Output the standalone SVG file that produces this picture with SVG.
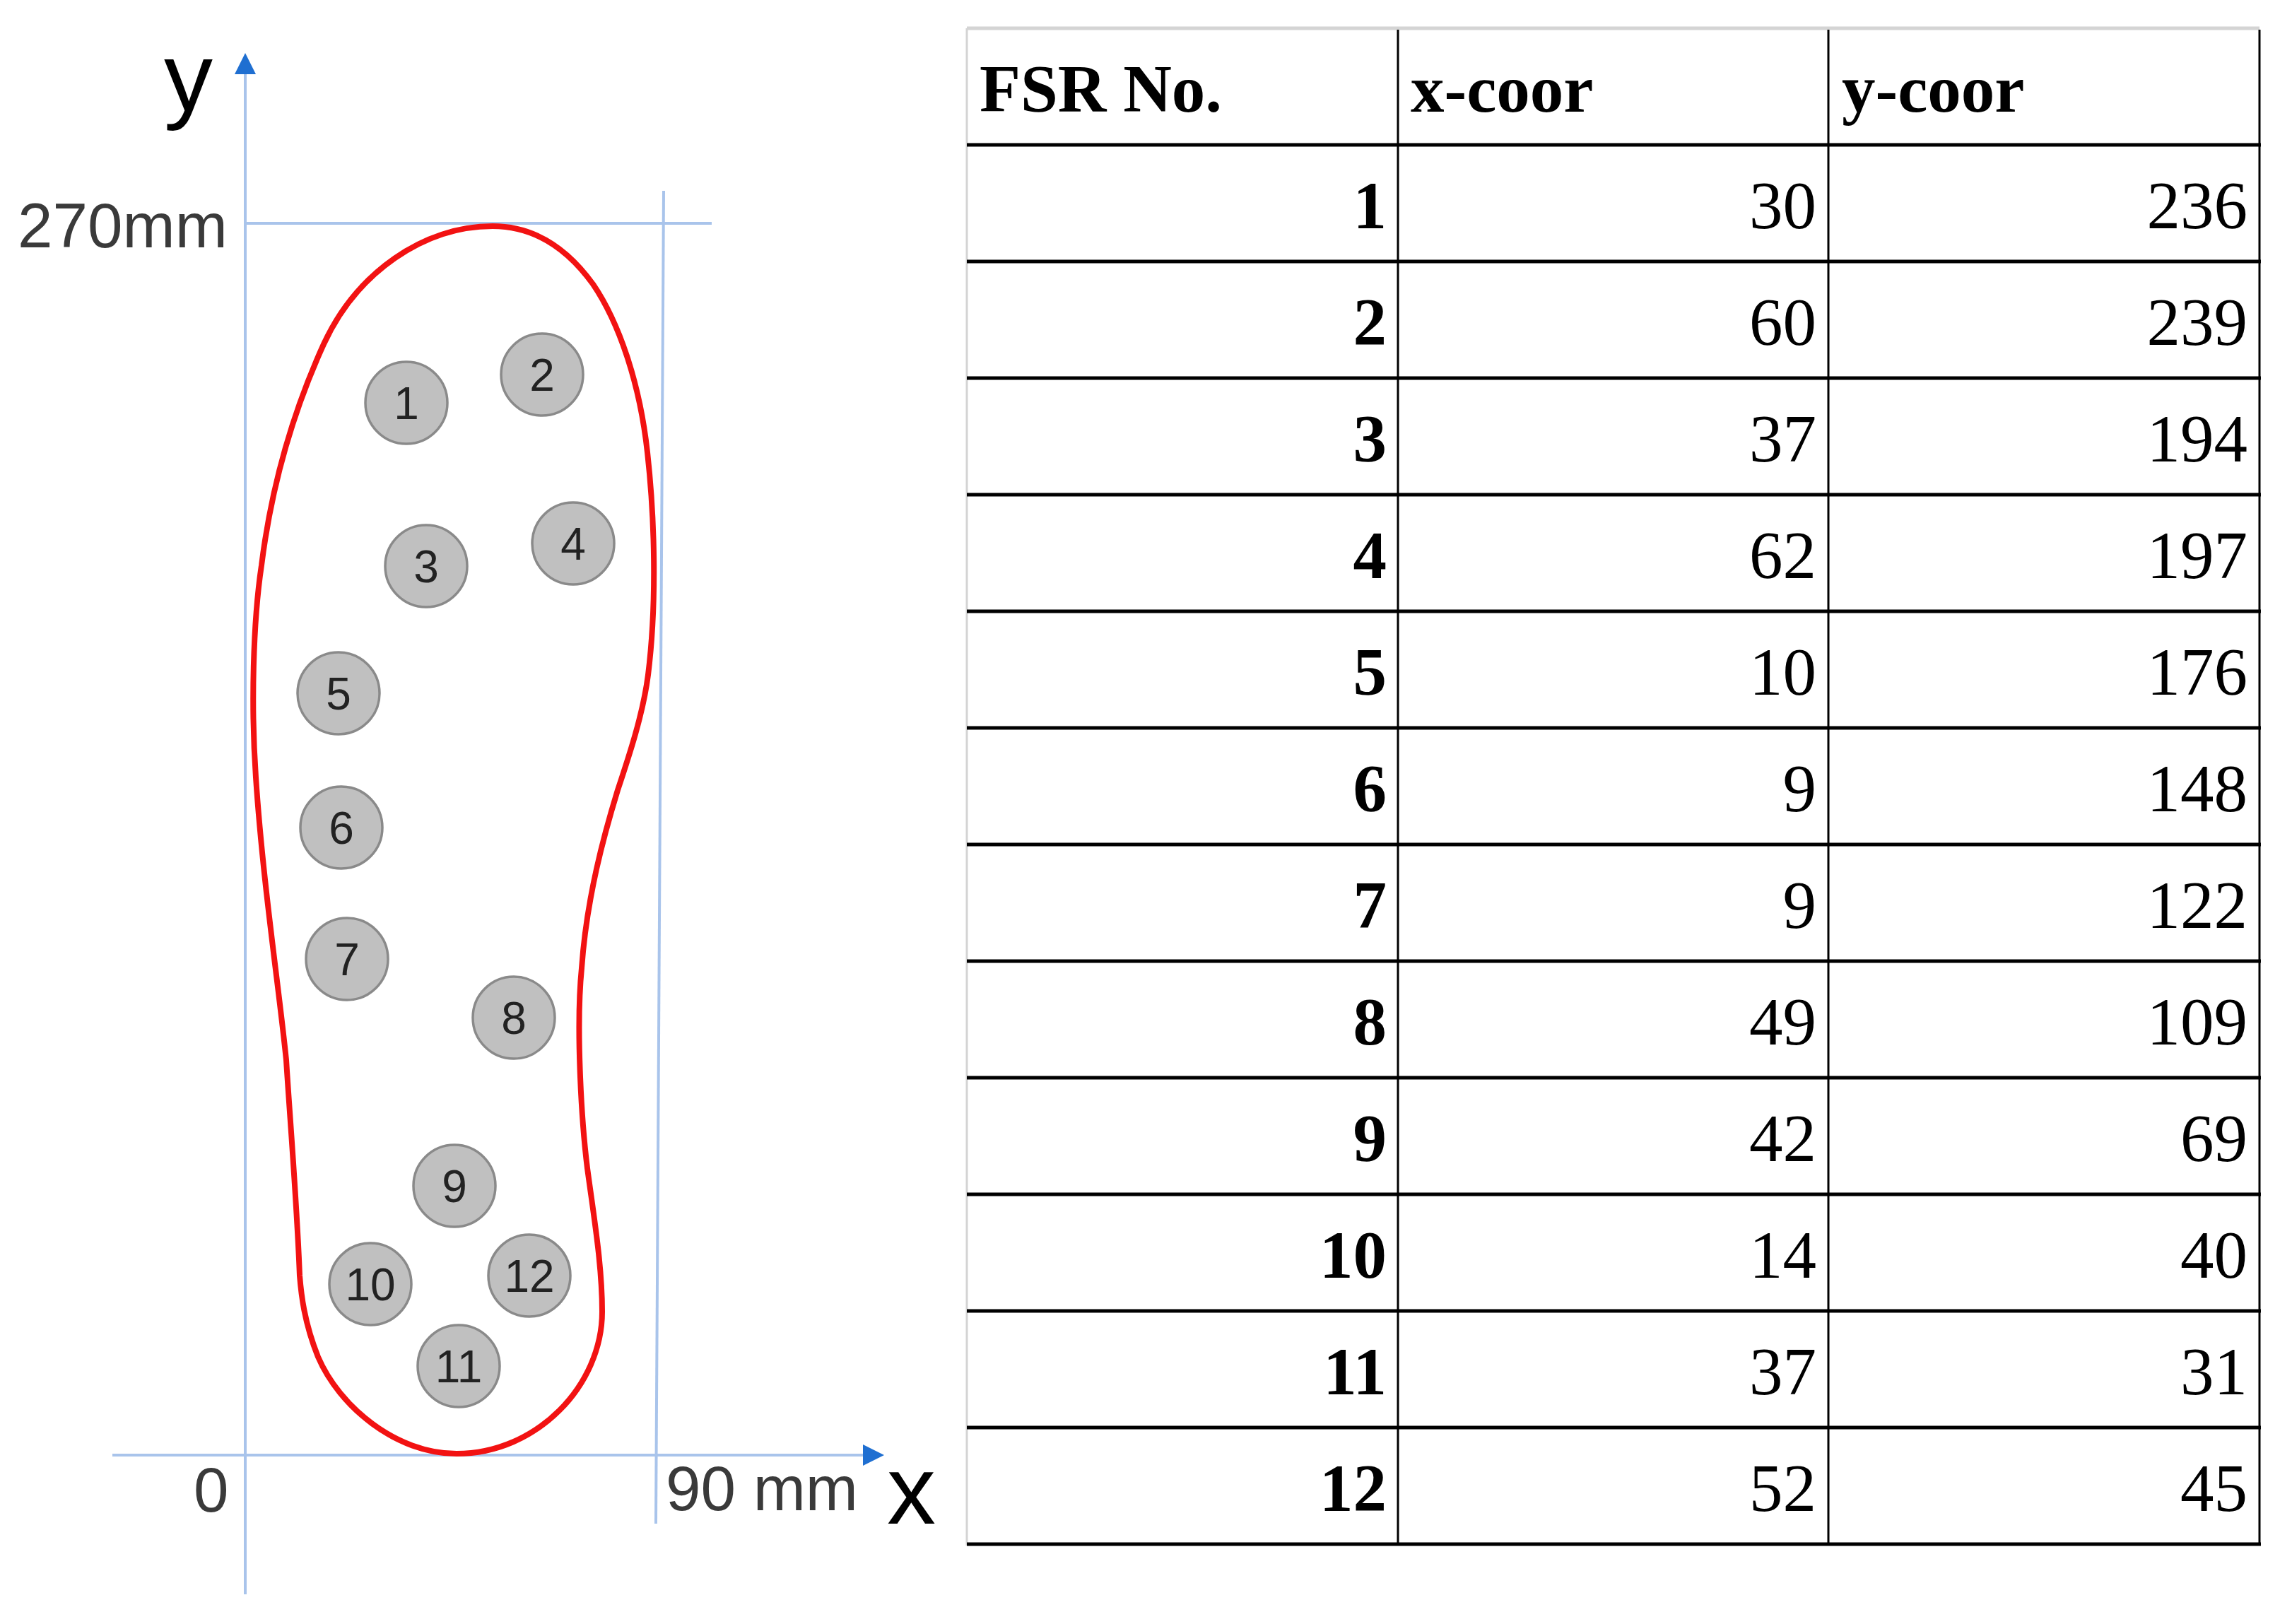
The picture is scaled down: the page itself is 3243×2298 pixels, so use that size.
<svg xmlns="http://www.w3.org/2000/svg" width="3243" height="2298" viewBox="0 0 3243 2298">
<style>
.ax{stroke:#a9c4eb;stroke-width:4;fill:none}
.lbl{font-family:"Liberation Sans",Arial,sans-serif;fill:#3a3a3a}
.big{font-family:"Liberation Sans",Arial,sans-serif;fill:#000;font-size:138px}
.sensor circle{fill:#c0c0c0;stroke:#8a8a8a;stroke-width:3.5}
.sensor text{font-family:"Liberation Sans",Arial,sans-serif;font-size:64px;fill:#222;text-anchor:middle}
.hl{stroke:#000;stroke-width:5}
.vl{stroke:#000;stroke-width:3}
.th{font-family:"Liberation Serif","Times New Roman",serif;font-weight:bold;font-size:95px;fill:#000}
.c1{font-family:"Liberation Serif","Times New Roman",serif;font-weight:bold;font-size:95px;fill:#000;text-anchor:end}
.cn{font-family:"Liberation Serif","Times New Roman",serif;font-size:95px;fill:#000;text-anchor:end}
</style>
<defs>
<marker id="arr" viewBox="0 0 30 30" refX="0" refY="15" markerWidth="30" markerHeight="30" markerUnits="userSpaceOnUse" orient="auto">
<path d="M0,0 L30,15 L0,30 Z" fill="#1f6fd1"/>
</marker>
</defs>
<rect width="3243" height="2298" fill="#fff"/>
<g id="axes">
<line class="ax" x1="347" y1="2256" x2="347" y2="105" marker-end="url(#arr)"/>
<line class="ax" x1="159" y1="2059" x2="1221" y2="2059" stroke-width="5" marker-end="url(#arr)"/>
<line class="ax" x1="347" y1="316" x2="1007" y2="316"/>
<line class="ax" x1="939" y1="270" x2="928" y2="2156"/>
<text class="big" x="232" y="156">y</text>
<text class="big" x="1255" y="2156">x</text>
<text class="lbl" x="25" y="350" font-size="89">270mm</text>
<text class="lbl" x="274" y="2139" font-size="89">0</text>
<text class="lbl" x="942" y="2137" font-size="89">90 mm</text>
</g>
<g id="insole">
<path d="M697 320 C760 320 805 355 839 402 C875 455 905 540 916 640 C926 730 930 850 917 955 C910 1010 890 1070 874 1118 C855 1180 830 1270 823 1370 C815 1450 822 1580 831 1653 C840 1720 852 1790 852 1856 C852 1960 760 2057 646 2057 C560 2057 480 1990 450 1920 C430 1870 426 1830 424 1805 C420 1700 410 1580 405 1500 C395 1400 372 1250 362 1100 C355 1000 358 880 370 800 C385 680 418 575 458 487 C505 385 600 320 697 320 Z" fill="none" stroke="#f21212" stroke-width="8"/>
</g>
<g id="sensor-1" class="sensor"><circle cx="575" cy="570" r="58"/><text x="575" y="593">1</text></g>
<g id="sensor-2" class="sensor"><circle cx="767" cy="530" r="58"/><text x="767" y="553">2</text></g>
<g id="sensor-3" class="sensor"><circle cx="603" cy="801" r="58"/><text x="603" y="824">3</text></g>
<g id="sensor-4" class="sensor"><circle cx="811" cy="769" r="58"/><text x="811" y="792">4</text></g>
<g id="sensor-5" class="sensor"><circle cx="479" cy="981" r="58"/><text x="479" y="1004">5</text></g>
<g id="sensor-6" class="sensor"><circle cx="483" cy="1171" r="58"/><text x="483" y="1194">6</text></g>
<g id="sensor-7" class="sensor"><circle cx="491" cy="1357" r="58"/><text x="491" y="1380">7</text></g>
<g id="sensor-8" class="sensor"><circle cx="727" cy="1440" r="58"/><text x="727" y="1463">8</text></g>
<g id="sensor-9" class="sensor"><circle cx="643" cy="1678" r="58"/><text x="643" y="1701">9</text></g>
<g id="sensor-10" class="sensor"><circle cx="524" cy="1817" r="58"/><text x="524" y="1840">10</text></g>
<g id="sensor-11" class="sensor"><circle cx="649" cy="1933" r="58"/><text x="649" y="1956">11</text></g>
<g id="sensor-12" class="sensor"><circle cx="749" cy="1805" r="58"/><text x="749" y="1828">12</text></g>
<g id="table">
<line x1="1368" y1="40" x2="3197" y2="40" stroke="#d4d4d4" stroke-width="5"/>
<line x1="1368" y1="40" x2="1368" y2="2187" stroke="#d4d4d4" stroke-width="3"/>
<line class="vl" x1="1978" y1="42" x2="1978" y2="2187"/>
<line class="vl" x1="2587" y1="42" x2="2587" y2="2187"/>
<line class="vl" x1="3197" y1="42" x2="3197" y2="2187"/>
<line class="hl" x1="1368" y1="205" x2="3199" y2="205"/>
<line class="hl" x1="1368" y1="370" x2="3199" y2="370"/>
<line class="hl" x1="1368" y1="535" x2="3199" y2="535"/>
<line class="hl" x1="1368" y1="700" x2="3199" y2="700"/>
<line class="hl" x1="1368" y1="865" x2="3199" y2="865"/>
<line class="hl" x1="1368" y1="1030" x2="3199" y2="1030"/>
<line class="hl" x1="1368" y1="1195" x2="3199" y2="1195"/>
<line class="hl" x1="1368" y1="1360" x2="3199" y2="1360"/>
<line class="hl" x1="1368" y1="1525" x2="3199" y2="1525"/>
<line class="hl" x1="1368" y1="1690" x2="3199" y2="1690"/>
<line class="hl" x1="1368" y1="1855" x2="3199" y2="1855"/>
<line class="hl" x1="1368" y1="2020" x2="3199" y2="2020"/>
<line class="hl" x1="1368" y1="2185" x2="3199" y2="2185"/>
<text class="th" x="1386" y="158">FSR No.</text>
<text class="th" x="1996" y="158">x-coor</text>
<text class="th" x="2606" y="158">y-coor</text>
<text class="c1" x="1962" y="323">1</text><text class="cn" x="2570" y="323">30</text><text class="cn" x="3180" y="323">236</text>
<text class="c1" x="1962" y="488">2</text><text class="cn" x="2570" y="488">60</text><text class="cn" x="3180" y="488">239</text>
<text class="c1" x="1962" y="653">3</text><text class="cn" x="2570" y="653">37</text><text class="cn" x="3180" y="653">194</text>
<text class="c1" x="1962" y="818">4</text><text class="cn" x="2570" y="818">62</text><text class="cn" x="3180" y="818">197</text>
<text class="c1" x="1962" y="983">5</text><text class="cn" x="2570" y="983">10</text><text class="cn" x="3180" y="983">176</text>
<text class="c1" x="1962" y="1148">6</text><text class="cn" x="2570" y="1148">9</text><text class="cn" x="3180" y="1148">148</text>
<text class="c1" x="1962" y="1313">7</text><text class="cn" x="2570" y="1313">9</text><text class="cn" x="3180" y="1313">122</text>
<text class="c1" x="1962" y="1478">8</text><text class="cn" x="2570" y="1478">49</text><text class="cn" x="3180" y="1478">109</text>
<text class="c1" x="1962" y="1643">9</text><text class="cn" x="2570" y="1643">42</text><text class="cn" x="3180" y="1643">69</text>
<text class="c1" x="1962" y="1808">10</text><text class="cn" x="2570" y="1808">14</text><text class="cn" x="3180" y="1808">40</text>
<text class="c1" x="1962" y="1973">11</text><text class="cn" x="2570" y="1973">37</text><text class="cn" x="3180" y="1973">31</text>
<text class="c1" x="1962" y="2138">12</text><text class="cn" x="2570" y="2138">52</text><text class="cn" x="3180" y="2138">45</text>
</g>
</svg>
